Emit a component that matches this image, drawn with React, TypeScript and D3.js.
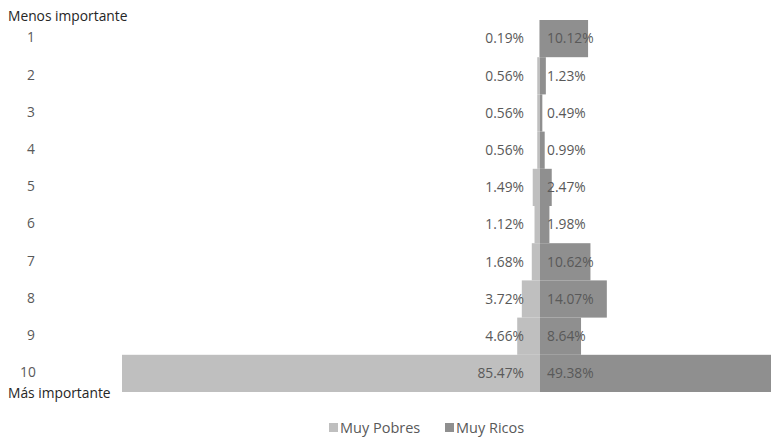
import * as d3 from 'd3';

const categories = ['1', '2', '3', '4', '5', '6', '7', '8', '9', '10'];
const pobres = [0.19, 0.56, 0.56, 0.56, 1.49, 1.12, 1.68, 3.72, 4.66, 85.47];
const ricos = [10.12, 1.23, 0.49, 0.99, 2.47, 1.98, 10.62, 14.07, 8.64, 49.38];
const seriesNames = ['Muy Pobres', 'Muy Ricos'];
const colors = ['#bfbfbf', '#8f8f8f'];

const W = 771;
const H = 437;
const center = 540;
const font = "'Open Sans', 'Noto Sans', sans-serif";

export default function App() {
    const y = d3.scaleBand<string>()
        .domain(categories)
        .range([20, 392])
        .paddingInner(0);

    // the two halves are scaled a little differently in the original
    const xLeft = d3.scaleLinear().domain([0, 85.47]).range([center, 122]);
    const xRight = d3.scaleLinear().domain([0, 10]).range([center, 587.5]);

    const fmt = (v: number) => v.toFixed(2) + '%';

    return (
        <svg width={W} height={H} style={{ position: 'absolute', left: 0, top: 0, background: '#fff' }}>
            <g>
                {categories.map((c, i) => (
                    <rect
                        key={'p' + c}
                        x={xLeft(pobres[i])}
                        y={y(c)!}
                        width={center - xLeft(pobres[i])}
                        height={y.bandwidth()}
                        fill={colors[0]}
                    />
                ))}
                {categories.map((c, i) => (
                    <rect
                        key={'r' + c}
                        x={center}
                        y={y(c)!}
                        width={xRight(ricos[i]) - center}
                        height={y.bandwidth()}
                        fill={colors[1]}
                    />
                ))}
            </g>
            <g fontFamily={font} fontSize={13.8} fill="#595959">
                {categories.map((c, i) => (
                    <text key={'lp' + c} x={524} y={y(c)! + y.bandwidth() / 2} dy="0.35em" textAnchor="end" textLength={undefined}>
                        {fmt(pobres[i])}
                    </text>
                ))}
                {categories.map((c, i) => (
                    <text key={'lr' + c} x={547} y={y(c)! + y.bandwidth() / 2} dy="0.35em">
                        {fmt(ricos[i])}
                    </text>
                ))}
                {categories.map((c) => (
                    <text key={'c' + c} x={c === '10' ? 28 : 31} y={y(c)! + y.bandwidth() / 2 - 1} dy="0.35em" textAnchor="middle">
                        {c}
                    </text>
                ))}
            </g>
            <g fontFamily={font} fontSize={13.8} fill="#262626">
                <text x={8} y={21}>Menos importante</text>
                <text x={8} y={398}>Más importante</text>
            </g>
            <g fontFamily={font} fontSize={14.5} fill="#595959">
                {seriesNames.map((s, i) => {
                    const lx = i === 0 ? 329 : 445;
                    return (
                        <g key={s}>
                            <rect x={lx} y={423} width={9} height={9} fill={colors[i]} />
                            <text x={lx + 11} y={432.5}>{s}</text>
                        </g>
                    );
                })}
            </g>
        </svg>
    );
}
